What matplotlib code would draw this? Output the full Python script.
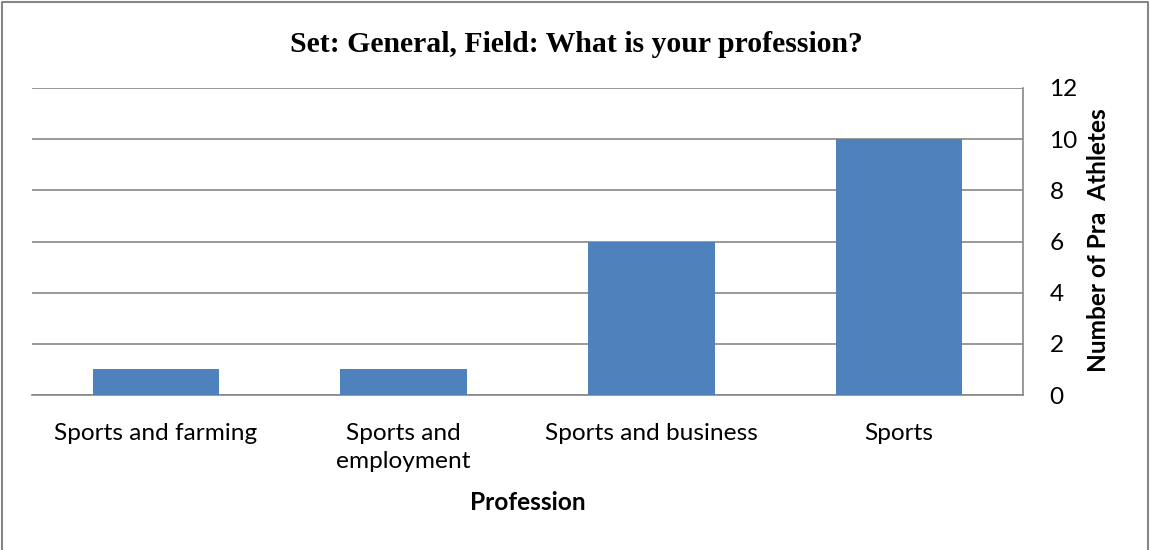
import matplotlib
matplotlib.use("Agg")
import matplotlib.pyplot as plt
from matplotlib.lines import Line2D

categories = ["Sports and farming", "Sports and\nemployment", "Sports and business", "Sports"]
counts = [1, 1, 6, 10]
y_ticks = [0, 2, 4, 6, 8, 10, 12]

title = "Set: General, Field: What is your profession?"
x_title = "Profession"
y_title = "Number of Pra  Athletes"

bar_color = "#4F81BD"
grid_color = "#878787"
label_font = ["Lato", "DejaVu Sans"]
fs = 17.6

W, H = 1150, 550
fig = plt.figure(figsize=(W / 100, H / 100), dpi=100)

# plot area in pixel coordinates
left, right, top, bottom = 32, 1023, 88, 395
ax = fig.add_axes([left / W, 1 - bottom / H, (right - left) / W, (bottom - top) / H])

x = range(len(categories))
ax.bar(x, counts, width=0.51, color=bar_color, zorder=3)
ax.set_xlim(-0.5, len(categories) - 0.5)
ax.set_ylim(0, 12)

ax.yaxis.tick_right()
ax.set_yticks(y_ticks)
ax.set_yticklabels([str(v) for v in y_ticks], family=label_font, fontsize=fs)
for lbl in ax.get_yticklabels():
    lbl.set_horizontalalignment("left")
ax.tick_params(axis="y", length=0, pad=19)

ax.set_xticks(list(x))
ax.set_xticklabels(categories, family=label_font, fontsize=fs, linespacing=1.45)
ax.tick_params(axis="x", length=0, pad=20)

ax.grid(axis="y", color=grid_color, linewidth=1.2, zorder=0)
for side in ["top", "left"]:
    ax.spines[side].set_visible(False)
for side in ["bottom", "right"]:
    ax.spines[side].set_color(grid_color)
    ax.spines[side].set_linewidth(1.2)

fig.text(576.5 / W, 1 - 44 / H, title, ha="center", va="center",
         family=["Liberation Serif", "DejaVu Serif"], fontweight="bold", fontsize=21.4)
fig.text((left + right) / 2 / W, 1 - 503 / H, x_title, ha="center", va="center",
         family=label_font, fontweight="bold", fontsize=fs)
fig.text(1099 / W, 1 - 240 / H, y_title, ha="center", va="center", rotation=90,
         family=label_font, fontweight="bold", fontsize=fs)

# outer chart frame (left, top and right edges)
frame_x = [1.5 / W, 1.5 / W, 1147.5 / W, 1147.5 / W]
frame_y = [0, 1 - 1.5 / H, 1 - 1.5 / H, 0]
fig.add_artist(Line2D(frame_x, frame_y, transform=fig.transFigure,
                      color="#878787", linewidth=1.5))

fig.savefig("out.png", dpi=100)
